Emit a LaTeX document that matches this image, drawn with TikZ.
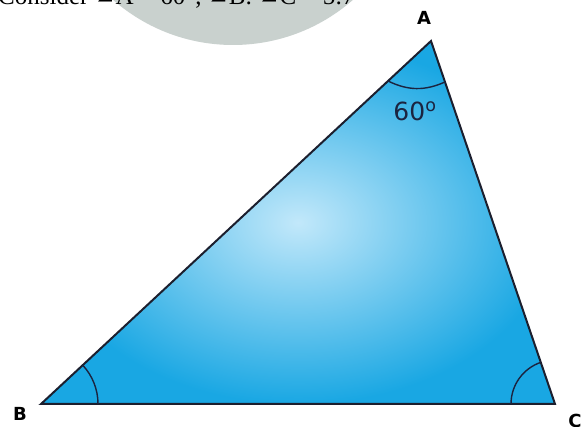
\documentclass[tikz,border=0pt]{standalone}
\usepackage{fontspec}
\setmainfont{Liberation Serif}
\newfontfamily\labelfont{DejaVu Sans}
\newfontfamily\symfont{DejaVu Serif}
\definecolor{triblue}{HTML}{19A7E3}
\definecolor{trilight}{HTML}{C2E8FA}
\definecolor{edgecol}{HTML}{1C1F2E}
\definecolor{arccol}{HTML}{1B2440}
\definecolor{wmgrey}{HTML}{C9D1CE}
\tikzstyle{vlabel}=[font=\labelfont\bfseries\fontsize{18}{18}\selectfont,inner sep=0pt]
\tikzstyle{side}=[draw=edgecol,line width=2pt]
\tikzstyle{angarc}=[draw=arccol,line width=1.4pt]
\tikzstyle{anglab}=[font=\labelfont\fontsize{25}{25}\selectfont,text=arccol,inner sep=0pt]

\begin{document}
\begin{tikzpicture}[x=1pt,y=1pt]
    \useasboundingbox (0,0) rectangle (583,427);
    \clip (0,0) rectangle (583,427);
    \fill[wmgrey] (233,564) circle (182);
    \node[anchor=base west,font=\fontsize{25}{25}\selectfont,inner sep=0pt] (head) at (-2,422)
      {Consider {\symfont ∠}A = 60°, {\symfont ∠}B: {\symfont ∠}C = 5:7};
    \coordinate (A) at (431,386);
    \coordinate (B) at (41,23);
    \coordinate (C) at (555,23);
    \shade[inner color=trilight,outer color=triblue] (A) -- (B) -- (C) -- cycle;
    \draw[side] (A) -- (B) -- (C) -- cycle;
    \coordinate (a1) at (388,346);
    \coordinate (a2) at (445,345);
    \draw[angarc] (a1) to[bend right=25] (a2);
    \draw[angarc] ([shift={(0:57)}]B) arc[start angle=0,end angle=42.9,radius=57];
    \draw[angarc] ([shift={(108.9:44)}]C) arc[start angle=108.9,end angle=180,radius=44];
    \node[anglab] (angA) at (415,316) {60\textsuperscript{o}};
    \node[vlabel] (lA) at (424,409) {A};
    \node[vlabel] (lB) at (20,13.5) {B};
    \node[vlabel] (lC) at (575,6) {C};
  \end{tikzpicture}
\end{document}
